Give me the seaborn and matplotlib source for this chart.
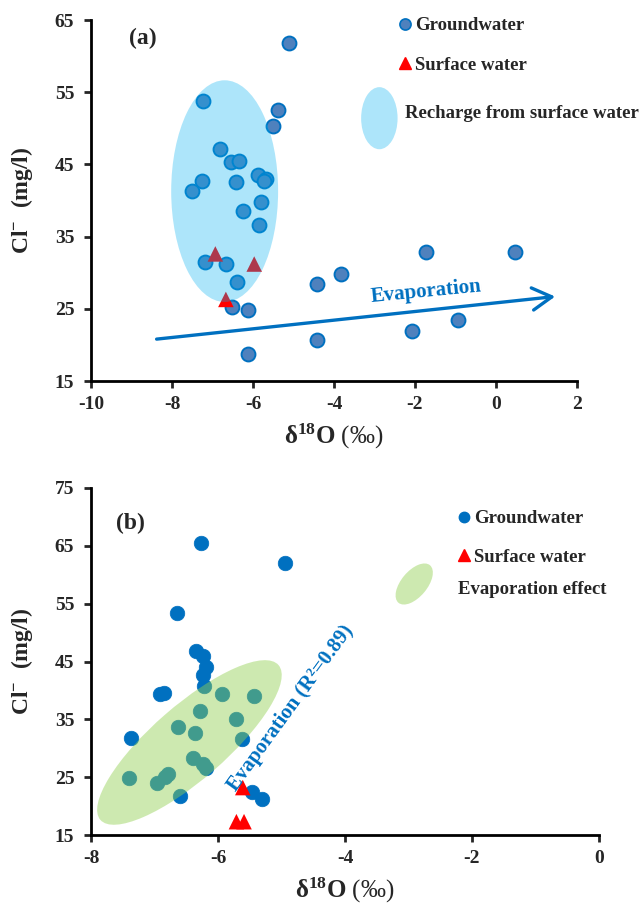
import numpy as np
import pandas as pd
import matplotlib
matplotlib.use("Agg")
import matplotlib.pyplot as plt
import matplotlib.transforms as mtransforms
from matplotlib.patches import Ellipse
from matplotlib.lines import Line2D
import seaborn as sns

# ---------------- data: panel (a) ----------------
gw_a_d18o = [-5.11, -7.23, -5.38, -5.51, -6.81, -6.55, -6.34, -7.27, -7.51, -6.43,
             -5.88, -5.69, -5.73, -5.80, -6.25, -5.84, -7.18, -6.67, -6.39, -6.51,
             -6.13, -6.13, -1.74, 0.48, -4.41, -3.83, -4.41, -2.07, -0.93]
gw_a_cl = [61.8, 53.8, 52.6, 50.3, 47.2, 45.4, 45.5, 42.7, 41.3, 42.5,
           43.5, 43.0, 42.7, 39.8, 38.5, 36.6, 31.5, 31.2, 28.7, 25.2,
           24.9, 18.8, 32.9, 32.9, 28.4, 29.8, 20.7, 21.9, 23.5]
sw_a_d18o = [-6.93, -5.97, -6.67]
sw_a_cl = [32.6, 31.2, 26.3]

# ---------------- data: panel (b) ----------------
gw_b_d18o = [-6.27, -4.94, -6.65, -6.34, -6.24, -6.19, -6.24, -6.22, -6.92, -6.85,
             -5.93, -5.43, -6.28, -5.71, -6.63, -6.36, -7.37, -5.62, -6.39, -6.24,
             -6.19, -6.79, -6.83, -6.96, -7.40, -6.60, -5.47, -5.31]
gw_b_cl = [65.5, 62.1, 53.4, 46.9, 46.0, 44.1, 42.6, 40.7, 39.4, 39.5,
           39.3, 39.0, 36.4, 35.0, 33.6, 32.6, 31.7, 31.6, 28.3, 27.2,
           26.5, 25.6, 25.1, 24.0, 24.8, 21.7, 22.4, 21.2]
sw_b_d18o = [-5.61, -5.71, -5.59]
sw_b_cl = [23.2, 17.3, 17.3]

xticks_a = [-10, -8, -6, -4, -2, 0, 2]
yticks_a = [15, 25, 35, 45, 55, 65]
xticks_b = [-8, -6, -4, -2, 0]
yticks_b = [15, 25, 35, 45, 55, 65, 75]

# ---------------- style ----------------
sns.set_style("ticks")
plt.rcParams["font.family"] = ["Liberation Serif", "DejaVu Serif"]
plt.rcParams["font.weight"] = "bold"
plt.rcParams["axes.unicode_minus"] = False
plt.rcParams["mathtext.fontset"] = "custom"
plt.rcParams["mathtext.rm"] = "Liberation Serif"
plt.rcParams["mathtext.bf"] = "Liberation Serif:bold"
plt.rcParams["mathtext.it"] = "Liberation Serif:italic"

W, H = 644, 906
fig = plt.figure(figsize=(W / 100, H / 100), dpi=100)
ax1 = fig.add_axes([91 / W, 1 - 381 / H, (577 - 91) / W, (381 - 20) / H])
ax2 = fig.add_axes([91 / W, 1 - 835 / H, (599 - 91) / W, (835 - 488) / H])

BLUE = "#0070c0"
RED = "#ff0000"


def style_axes(ax, xt, yt):
    ax.set_xlim(xt[0], xt[-1])
    ax.set_ylim(yt[0], yt[-1])
    ax.set_xticks(xt)
    ax.set_yticks(yt)
    for s in ["top", "right"]:
        ax.spines[s].set_visible(False)
    for s in ["left", "bottom"]:
        ax.spines[s].set_linewidth(2)
        ax.spines[s].set_color("black")
    ax.tick_params(direction="out", length=5, width=2, labelsize=14)
    ax.tick_params(axis="x", pad=6)
    ax.tick_params(axis="y", pad=7)
    for lab in ax.get_xticklabels() + ax.get_yticklabels():
        lab.set_fontweight("bold")
    ax.set_xlabel(r"$\mathbf{δ^{18}O}$ (‰)", fontsize=18, fontweight="normal",
                  labelpad=6)
    ax.set_ylabel(r"$\mathbf{Cl^{-}\ \ (mg/l)}$", fontsize=17)


# ---------------- panel (a) ----------------
sns.scatterplot(x=gw_a_d18o, y=gw_a_cl, ax=ax1, marker="o", s=100,
                color="#4f81bd", edgecolor=BLUE, linewidth=1.4, zorder=3)
sns.scatterplot(x=sw_a_d18o, y=sw_a_cl, ax=ax1, marker="^", s=125,
                color=RED, edgecolor="none", linewidth=0, zorder=3)
ax1.add_patch(Ellipse((-6.70, 41.3), 2.64, 30.7, facecolor="#00b0f0",
                      alpha=0.32, edgecolor="none", zorder=4))
ax1.add_patch(Ellipse((-2.88, 51.4), 0.9, 8.6, facecolor="#00b0f0",
                      alpha=0.32, edgecolor="none", zorder=4))
ax1.annotate("", xy=(1.46, 26.7), xytext=(-8.38, 20.8),
             arrowprops=dict(arrowstyle="->,head_length=0.7,head_width=0.4",
                             color=BLUE, lw=2.4, mutation_scale=20,
                             shrinkA=0, shrinkB=0), zorder=5)
ax1.text(-1.73, 27.4, "Evaporation", color=BLUE, fontsize=15, rotation=5.5,
         ha="center", va="center", fontweight="bold", zorder=5)
ax1.text(0.107, 0.95, "(a)", transform=ax1.transAxes, fontsize=17,
         ha="center", va="center", fontweight="bold")
style_axes(ax1, xticks_a, yticks_a)

h_gw_a = Line2D([], [], ls="none", marker="o", ms=8, mfc="#4f81bd", mec=BLUE,
                mew=1.2, label="Groundwater")
h_sw_a = Line2D([], [], ls="none", marker="^", ms=8, color=RED, label="Surface water")
ax1.legend(handles=[h_gw_a, h_sw_a], loc="upper left",
           bbox_to_anchor=(399 / W, 1 - 17 / H), bbox_transform=fig.transFigure,
           frameon=False, fontsize=13.5, handlelength=0.6, handletextpad=0.25,
           labelspacing=1.2, borderpad=0, borderaxespad=0)
ax1.text(405 / W, 1 - 113 / H, "Recharge from surface water",
         transform=fig.transFigure, fontsize=13.5, ha="left", va="center",
         fontweight="bold", clip_on=False)

# ---------------- panel (b) ----------------
sns.scatterplot(x=gw_b_d18o, y=gw_b_cl, ax=ax2, marker="o", s=110,
                color=BLUE, edgecolor=BLUE, linewidth=0.5, zorder=3)
sns.scatterplot(x=sw_b_d18o, y=sw_b_cl, ax=ax2, marker="^", s=125,
                color=RED, edgecolor="none", linewidth=0, zorder=3)
style_axes(ax2, xticks_b, yticks_b)

trans_e = fig.dpi_scale_trans + mtransforms.ScaledTranslation(-6.45, 31.0, ax2.transData)
ax2.add_patch(Ellipse((0, 0), 2.36, 0.74, angle=41, transform=trans_e,
                      facecolor="#92d050", alpha=0.45, edgecolor="none", zorder=4))
trans_l = fig.dpi_scale_trans + mtransforms.ScaledTranslation(-2.91, 58.4, ax2.transData)
ax2.add_patch(Ellipse((0, 0), 0.49, 0.26, angle=50, transform=trans_l,
                      facecolor="#92d050", alpha=0.45, edgecolor="none", zorder=4))
ax2.text(-4.85, 36.9, "Evaporation (R²=0.89)", color=BLUE, fontsize=15,
         rotation=54, ha="center", va="center", fontweight="bold", zorder=5)
ax2.text(0.077, 0.899, "(b)", transform=ax2.transAxes, fontsize=17,
         ha="center", va="center", fontweight="bold")

h_gw_b = Line2D([], [], ls="none", marker="o", ms=7.5, color=BLUE, label="Groundwater")
h_sw_b = Line2D([], [], ls="none", marker="^", ms=8, color=RED, label="Surface water")
ax2.legend(handles=[h_gw_b, h_sw_b], loc="upper left",
           bbox_to_anchor=(458 / W, 1 - 510 / H), bbox_transform=fig.transFigure,
           frameon=False, fontsize=13.5, handlelength=0.6, handletextpad=0.25,
           labelspacing=1.15, borderpad=0, borderaxespad=0)
ax2.text(458 / W, 1 - 590 / H, "Evaporation effect", transform=fig.transFigure,
         fontsize=13.5, ha="left", va="center", fontweight="bold")

for ax in (ax1, ax2):
    ax.yaxis.set_label_coords(-0.115 if ax is ax1 else -0.11, 0.5)

fig.savefig("out.png", dpi=100)
